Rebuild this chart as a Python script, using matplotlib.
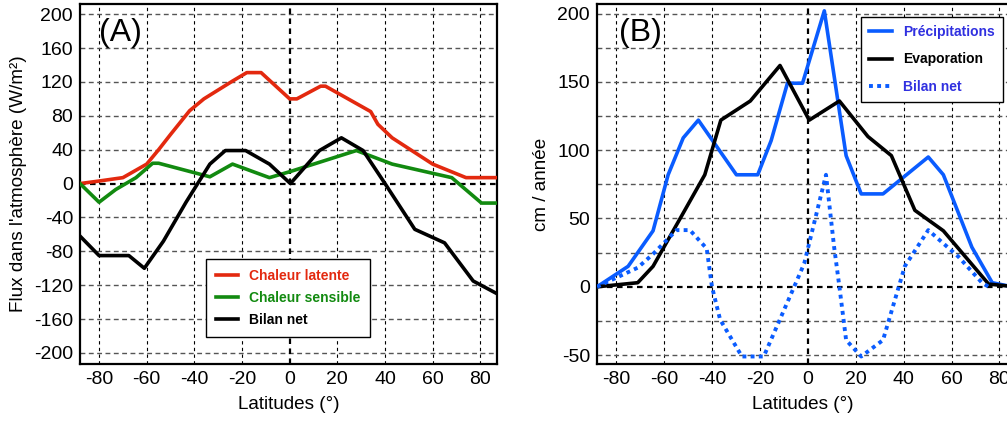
import matplotlib
matplotlib.use('Agg')
import matplotlib.pyplot as plt
import numpy as np

plt.rcParams['font.family'] = ['Liberation Sans', 'DejaVu Sans']
plt.rcParams['axes.unicode_minus'] = False

# (A) flux dans l'atmosphere
lat_latente = [-88, -80, -70, -60, -55, -50, -42, -36, -24, -18, -12, 0, 3, 13, 15, 34, 37, 43, 60, 74, 87]
latente = [0, 3, 7, 23, 40, 58, 86, 100, 121, 131, 131, 100, 100, 115, 115, 85, 70, 54, 23, 7, 7]

lat_sensible = [-88, -80, -73, -64.5, -57.5, -55, -33.5, -24, -8.5, 0, 28, 43, 68, 80.5, 87]
sensible = [0, -22, -7, 7, 24, 24, 8, 23, 7, 14, 39, 23, 7, -23, -23]

lat_bilanA = [-88, -80, -67.5, -61, -53, -43.5, -33.5, -27, -18.5, -8.5, 0.3, 12.5, 21.7, 30.8, 40, 52.5, 65, 77, 87]
bilanA = [-62, -85, -85, -100, -68, -22, 23, 39, 39, 23, 0, 39, 54, 39, 0, -54, -70, -115, -130]

# (B) precipitations / evaporation
lat_precip = [-88, -75, -64.6, -58.3, -52, -45.7, -29.8, -20.9, -15.3, -8.5, -2.2, 6.9, 16, 22.3, 31.4, 50.3, 56.6, 68.5, 77, 84]
precip = [0, 15, 41, 82, 109, 122, 82, 82, 107, 149, 149, 202, 96, 68, 68, 95, 82, 29, 3, 0.5]

lat_evap = [-88, -71, -64.6, -52, -43, -36.3, -24, -11.6, 0.6, 13.2, 25.1, 34.9, 44.7, 56.6, 75.5, 84]
evap = [0, 3, 15, 54, 82, 122, 136, 162, 122, 136, 110, 96, 56, 41, 2, 0.5]

lat_bilanB = [-88, -71, -64.6, -54.8, -49.2, -42.2, -40, -36.6, -27.5, -18.4, -5.7, -1.5, 7.6, 11, 13.2, 16, 22.3, 31.4, 40.5, 50.3, 62.9, 72.7, 75.5]
bilanB = [0, 14, 24, 41.5, 41.5, 28, 0, -24, -51, -51, 0, 17, 82, 29, 0, -39, -51, -39, 15, 41.5, 22, 3, 0]

red = '#e3290f'
green = '#128a10'
blue = '#0a5cff'

fig = plt.figure(figsize=(10.07, 4.21), dpi=100)
axA = fig.add_axes([80/1007, 1-364/421, 417/1007, 360/421])
axB = fig.add_axes([597/1007, 1-364/421, 412/1007, 360/421])


def style(ax, xt, yt, ylab):
    ax.set_xticks(xt)
    ax.set_yticks(yt)
    ax.tick_params(length=0, labelsize=14, pad=5)
    for v in xt:
        if v != 0:
            ax.axvline(v, color='black', lw=0.8, ls=(0, (3, 3)), zorder=1)
    for v in yt:
        if v != 0:
            ax.axhline(v, color='#555555', lw=1.0, ls=(0, (3.5, 2.5)), zorder=1)
    ax.axvline(0, color='black', lw=1.6, ls=(0, (2.5, 2)), zorder=1)
    ax.axhline(0, color='black', lw=1.6, ls=(0, (2.5, 2)), zorder=1)
    for s in ax.spines.values():
        s.set_linewidth(1.6)
    ax.set_xlabel('Latitudes (°)', fontsize=13.6, labelpad=6)
    ax.set_ylabel(ylab, fontsize=13.6, labelpad=5)


# panel A
axA.plot(lat_latente, latente, color=red, lw=2.6, label='Chaleur latente', zorder=3)
axA.plot(lat_sensible, sensible, color=green, lw=2.6, label='Chaleur sensible', zorder=3)
axA.plot(lat_bilanA, bilanA, color='black', lw=2.6, label='Bilan net', zorder=3)
axA.set_xlim(-88, 87)
axA.set_ylim(-213, 212)
style(axA, np.arange(-80, 81, 20), np.arange(-200, 201, 40), "Flux dans l'atmosphère (W/m²)")
axA.text(0.046, 0.96, '(A)', transform=axA.transAxes, fontsize=23, va='top')
legA = axA.legend(loc='lower left', bbox_to_anchor=(0.302, 0.075), borderaxespad=0,
                  prop={'weight': 'bold', 'size': 10}, fancybox=False, framealpha=1,
                  edgecolor='black', handlelength=1.6, borderpad=0.7, labelspacing=0.6)
legA.get_frame().set_linewidth(1.0)
for t, c in zip(legA.get_texts(), [red, green, 'black']):
    t.set_color(c)

# panel B
axB.plot(lat_precip, precip, color=blue, lw=2.6, label='Précipitations', zorder=3)
axB.plot(lat_evap, evap, color='black', lw=2.6, label='Evaporation', zorder=3)
axB.plot(lat_bilanB, bilanB, color=blue, lw=2.8, ls=(0, (1, 1.1)), label='Bilan net', zorder=3)
axB.set_xlim(-88, 84)
axB.set_ylim(-56.5, 207)
style(axB, np.arange(-80, 81, 20), np.arange(-50, 201, 25), 'cm / année')
axB.set_yticklabels([str(v) if v % 50 == 0 else '' for v in np.arange(-50, 201, 25)])
axB.text(0.054, 0.96, '(B)', transform=axB.transAxes, fontsize=23, va='top')
legB = axB.legend(loc='upper right', bbox_to_anchor=(0.985, 0.964), borderaxespad=0,
                  prop={'weight': 'bold', 'size': 10}, fancybox=False, framealpha=1,
                  edgecolor='black', handlelength=1.6, borderpad=0.6, labelspacing=0.95)
legB.get_frame().set_linewidth(1.0)
for t, c in zip(legB.get_texts(), ['#3030e0', 'black', '#3030e0']):
    t.set_color(c)

fig.savefig('out.png', dpi=100)
